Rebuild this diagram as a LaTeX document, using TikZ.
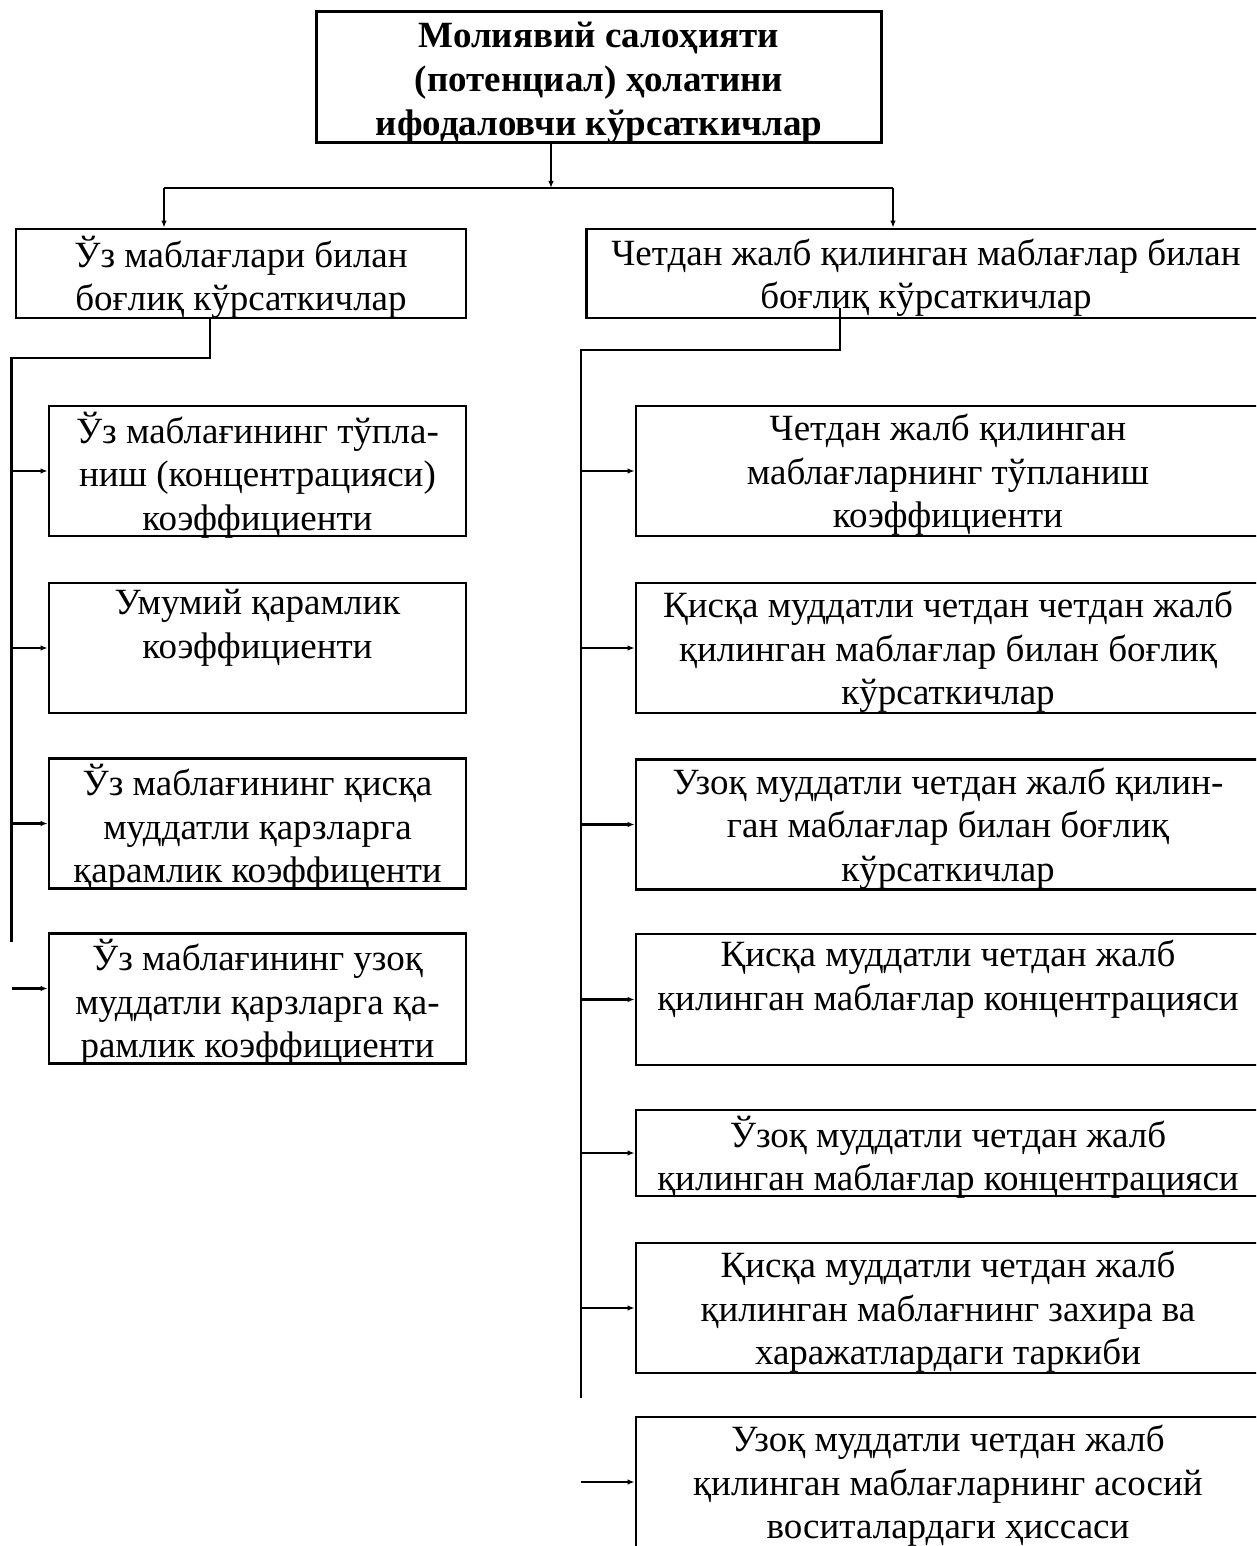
\documentclass[tikz,border=0pt]{standalone}
\usepackage{fontspec}
\setmainfont{Liberation Serif}
\usetikzlibrary{arrows.meta}
\begin{document}
\begin{tikzpicture}[x=1pt,y=-1pt,
  box/.style={draw, line width=2.8pt, inner sep=0pt},
  lbox/.style={box, minimum width=417pt, minimum height=130pt},
  rbox/.style={box, minimum width=624pt, minimum height=130pt},
  txt/.style={inner sep=0pt, align=center, font=\fontsize{37}{43.5}\selectfont, yshift=-4pt},
  conn/.style={line width=2.4pt},
  arr/.style={line width=2.4pt, -{Latex[length=7pt,width=5.5pt]}},
]
\useasboundingbox (0,0) rectangle (1256,1546);
\fill[white] (0,0) rectangle (1256,1546);
\clip (0,0) rectangle (1256,1546);

\node[box, minimum width=565pt, minimum height=131pt] (T) at (599,77) {};
\node[txt, font=\fontsize{37}{44}\selectfont\bfseries, yshift=-2pt] (Tt) at (T) {Молиявий салоҳияти\\(потенциал) ҳолатини\\ифодаловчи кўрсаткичлар};

\node[box, minimum width=450pt, minimum height=89pt] (A) at (241,273.5) {};
\node[txt] (At) at (A) {Ўз маблағлари билан\\боғлиқ кўрсаткичлар};
\node[box, minimum width=679pt, minimum height=89pt] (B) at (926,273.5) {};
\node[txt] (Bt) at (B) {Четдан жалб қилинган маблағлар билан\\боғлиқ кўрсаткичлар};

\node[lbox] (A1) at (257.5,471) {};
\node[txt] (A1t) at (A1) {Ўз маблағининг тўпла-\\ниш (концентрацияси)\\коэффициенти};
\node[lbox] (A2) at (257.5,648) {};
\node[txt] (A2t) at (A2) {Умумий қарамлик\\коэффициенти\\\strut};
\node[lbox] (A3) at (257.5,823.5) {};
\node[txt] (A3t) at (A3) {Ўз маблағининг қисқа\\муддатли қарзларга\\қарамлик коэффиценти};
\node[lbox] (A4) at (257.5,998.5) {};
\node[txt] (A4t) at (A4) {Ўз маблағининг узоқ\\муддатли қарзларга қа-\\рамлик коэффициенти};

\node[rbox] (B1) at (948,471) {};
\node[txt] (B1t) at (B1) {Четдан жалб қилинган\\маблағларнинг тўпланиш\\коэффициенти};
\node[rbox] (B2) at (948,648) {};
\node[txt] (B2t) at (B2) {Қисқа муддатли четдан четдан жалб\\қилинган маблағлар билан боғлиқ\\кўрсаткичлар};
\node[rbox] (B3) at (948,824.5) {};
\node[txt] (B3t) at (B3) {Узоқ муддатли четдан жалб қилин-\\ган маблағлар билан боғлиқ\\кўрсаткичлар};
\node[rbox, minimum height=131pt] (B4) at (948,999.5) {};
\node[txt] (B4t) at (B4) {Қисқа муддатли четдан жалб\\қилинган маблағлар концентрацияси\\\strut};
\node[rbox, minimum height=86pt] (B5) at (948,1153) {};
\node[txt] (B5t) at (B5) {Ўзоқ муддатли четдан жалб\\қилинган маблағлар концентрацияси};
\node[rbox] (B6) at (948,1308) {};
\node[txt] (B6t) at (B6) {Қисқа муддатли четдан жалб\\қилинган маблағнинг захира ва\\харажатлардаги таркиби};
\node[rbox] (B7) at (948,1482) {};
\node[txt] (B7t) at (B7) {Узоқ муддатли четдан жалб\\қилинган маблағларнинг асосий\\воситалардаги ҳиссаси};

% top connectors
\coordinate (j) at (551,188);
\coordinate (hl) at (164,188);
\coordinate (hr) at (893,188);
\draw[arr, line width=1.8pt] (T.south -| j) -- (j);
\draw[conn] (hl) -- (hr);
\draw[arr, line width=1.8pt] (hl) -- (hl |- A.north);
\draw[arr, line width=1.8pt] (hr) -- (hr |- B.north);

% left branch
\coordinate (a0) at (210,318);
\coordinate (lt) at (11.5,358);
\coordinate (lb) at (11.5,942);
\draw[conn] (A.south -| a0) |- (lt) -- (lb);
\foreach \n in {A1,A2,A3} \draw[arr] (\n.west -| lt) -- (\n.west);
\draw[arr] ([yshift=10pt]A4.west -| lt) -- ([yshift=10pt]A4.west);

% right branch
\coordinate (b0) at (840,308);
\coordinate (rt) at (581,350);
\coordinate (rb) at (581,1398);
\draw[conn] (b0) |- (rt) -- (rb);
\foreach \n in {B1,B2,B3,B4,B5,B6,B7} \draw[arr] (\n.west -| rt) -- (\n.west);
\end{tikzpicture}
\end{document}
